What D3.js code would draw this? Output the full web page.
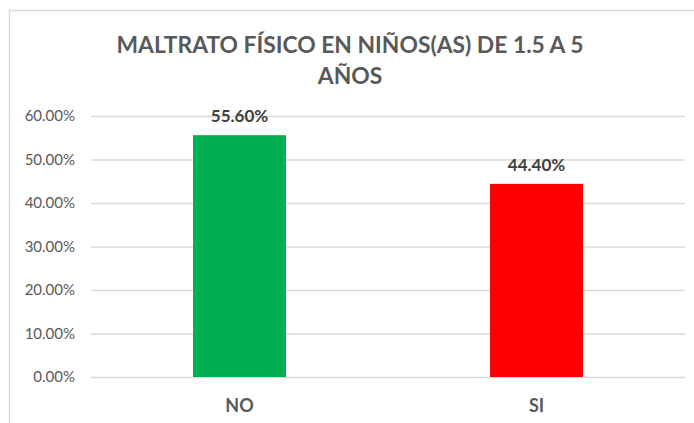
<!DOCTYPE html>
<html>
<head>
<meta charset="utf-8">
<script src="https://cdn.jsdelivr.net/npm/d3@7"></script>
<style>
  html, body { margin: 0; padding: 0; background: #ffffff; }
  svg { display: block; }
</style>
</head>
<body>
<svg id="chart" width="694" height="423"></svg>
<script>
// Data
const categories = ["NO", "SI"];
const values = [0.556, 0.444];
const barColors = ["#00b050", "#ff0000"];
const tickValues = [0, 0.1, 0.2, 0.3, 0.4, 0.5, 0.6];
const titleLines = ["MALTRATO FÍSICO EN NIÑOS(AS) DE 1.5 A 5", "AÑOS"];

const W = 694, H = 423;
const plot = { left: 91, right: 685, top: 116, bottom: 377 };
const textColor = "#595959";
const gridColor = "#d9d9d9";
const fontFamily = "Lato, 'Open Sans', sans-serif";

const svg = d3.select("#chart");

// Chart area frame (extends past the right/bottom edges)
svg.append("path")
  .attr("d", `M9.5,${H + 2} L9.5,10.5 L${W + 2},10.5`)
  .attr("fill", "none")
  .attr("stroke", gridColor)
  .attr("stroke-width", 1.5);

// Scales
const y = d3.scaleLinear().domain([0, 0.6]).range([plot.bottom, plot.top]);
const x = d3.scaleBand()
  .domain(categories)
  .range([plot.left, plot.right])
  .paddingInner(0.687)
  .paddingOuter(0.687 / 2);

// Title
const title = svg.append("g").attr("class", "title");
titleLines.forEach((line, i) => {
  title.append("text")
    .attr("x", 350)
    .attr("y", 53 + i * 31)
    .attr("text-anchor", "middle")
    .attr("font-family", fontFamily)
    .attr("font-weight", "bold")
    .attr("font-size", 21)
    .attr("fill", textColor)
    .text(line);
});
// Fit the first title line to its intended width
(function fitTitle() {
  const first = title.select("text").node();
  const len = first.getComputedTextLength();
  const target = 467;
  const size = 21 * target / len;
  title.selectAll("text").attr("font-size", size);
})();

// Y axis with gridlines
const yAxis = d3.axisLeft(y)
  .tickValues(tickValues)
  .tickFormat(d3.format(".2%"))
  .tickSize(-(plot.right - plot.left))
  .tickPadding(16);

const yg = svg.append("g")
  .attr("transform", `translate(${plot.left},0)`)
  .call(yAxis);
yg.select(".domain").remove();
yg.selectAll(".tick line")
  .attr("stroke", gridColor)
  .attr("stroke-width", 1.3);
yg.selectAll(".tick text")
  .attr("font-family", fontFamily)
  .attr("font-size", 15)
  .attr("fill", textColor);

// Bars
svg.append("g").selectAll("rect")
  .data(categories)
  .join("rect")
  .attr("x", d => x(d))
  .attr("width", x.bandwidth())
  .attr("y", (d, i) => y(values[i]))
  .attr("height", (d, i) => y(0) - y(values[i]))
  .attr("fill", (d, i) => barColors[i]);

// Value labels
const pct = d3.format(".2%");
svg.append("g").selectAll("text")
  .data(categories)
  .join("text")
  .attr("x", d => x(d) + x.bandwidth() / 2)
  .attr("y", (d, i) => y(values[i]) - 13)
  .attr("text-anchor", "middle")
  .attr("font-family", fontFamily)
  .attr("font-weight", "bold")
  .attr("font-size", 17)
  .attr("fill", "#404040")
  .text((d, i) => pct(values[i]));

// X axis category labels
const xAxis = d3.axisBottom(x).tickSize(0).tickPadding(22);
const xg = svg.append("g")
  .attr("transform", `translate(0,${plot.bottom})`)
  .call(xAxis);
xg.select(".domain").remove();
xg.selectAll(".tick text")
  .attr("font-family", fontFamily)
  .attr("font-weight", "bold")
  .attr("font-size", 18)
  .attr("fill", textColor);
</script>
</body>
</html>
